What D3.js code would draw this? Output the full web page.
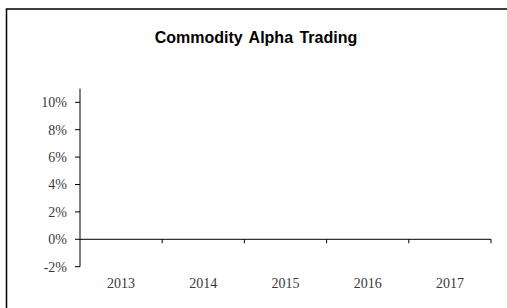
<!DOCTYPE html>
<html lang="en">
<head>
  <meta charset="utf-8">
  <title>Commodity Alpha Trading</title>
  <script src="https://d3js.org/d3.v7.min.js"></script>
  <style>
    body { margin: 0; background: #fff; }
    .axis-label { font-family: "Liberation Serif", "DejaVu Serif", serif; font-size: 14px; fill: #3a3a3a; }
  </style>
</head>
<body>
<script>
  // chart data
  const title = "Commodity Alpha Trading";
  const years = ["2013", "2014", "2015", "2016", "2017"];
  const yTicks = [-0.02, 0, 0.02, 0.04, 0.06, 0.08, 0.10];
  const yDomain = [-0.02, 0.11];

  const width = 507, height = 308;
  const svg = d3.select("body").append("svg")
    .attr("width", width)
    .attr("height", height);

  // outer chart border
  svg.append("rect")
    .attr("x", 6.5).attr("y", 9)
    .attr("width", 510).attr("height", 310)
    .attr("fill", "none")
    .attr("stroke", "#000")
    .attr("stroke-width", 1.5);

  svg.append("text")
    .attr("x", 256)
    .attr("y", 43)
    .attr("text-anchor", "middle")
    .style("font-family", "'Liberation Sans', Arial, sans-serif")
    .style("font-weight", "bold")
    .style("font-size", "16px")
    .style("word-spacing", "2px")
    .text(title);

  const x = d3.scaleBand()
    .domain(years)
    .range([80, 491]);

  const y = d3.scaleLinear()
    .domain(yDomain)
    .range([266.7, 88.6]);

  const pct = d => Math.round(d * 100) + "%";

  // y axis
  svg.append("line")
    .attr("x1", 80).attr("x2", 80)
    .attr("y1", y(yDomain[1])).attr("y2", y(yDomain[0]))
    .attr("stroke", "#000");

  svg.selectAll(".ytick")
    .data(yTicks)
    .enter().append("line")
    .attr("class", "ytick")
    .attr("x1", 75).attr("x2", 80)
    .attr("y1", d => y(d)).attr("y2", d => y(d))
    .attr("stroke", "#000");

  svg.selectAll(".ylab")
    .data(yTicks)
    .enter().append("text")
    .attr("class", "axis-label")
    .attr("x", 67)
    .attr("y", d => y(d))
    .attr("dy", "0.35em")
    .attr("text-anchor", "end")
    .text(pct);

  // x axis along zero
  const y0 = y(0);
  svg.append("line")
    .attr("x1", x.range()[0]).attr("x2", x.range()[1])
    .attr("y1", y0).attr("y2", y0)
    .attr("stroke", "#000");

  svg.selectAll(".xtick")
    .data(years)
    .enter().append("line")
    .attr("class", "xtick")
    .attr("x1", d => x(d) + x.bandwidth()).attr("x2", d => x(d) + x.bandwidth())
    .attr("y1", y0).attr("y2", y0 + 4)
    .attr("stroke", "#000");

  svg.selectAll(".xlab")
    .data(years)
    .enter().append("text")
    .attr("class", "axis-label")
    .attr("x", d => x(d) + x.bandwidth() / 2)
    .attr("y", 283)
    .attr("dy", "0.35em")
    .attr("text-anchor", "middle")
    .text(d => d);
</script>
</body>
</html>
